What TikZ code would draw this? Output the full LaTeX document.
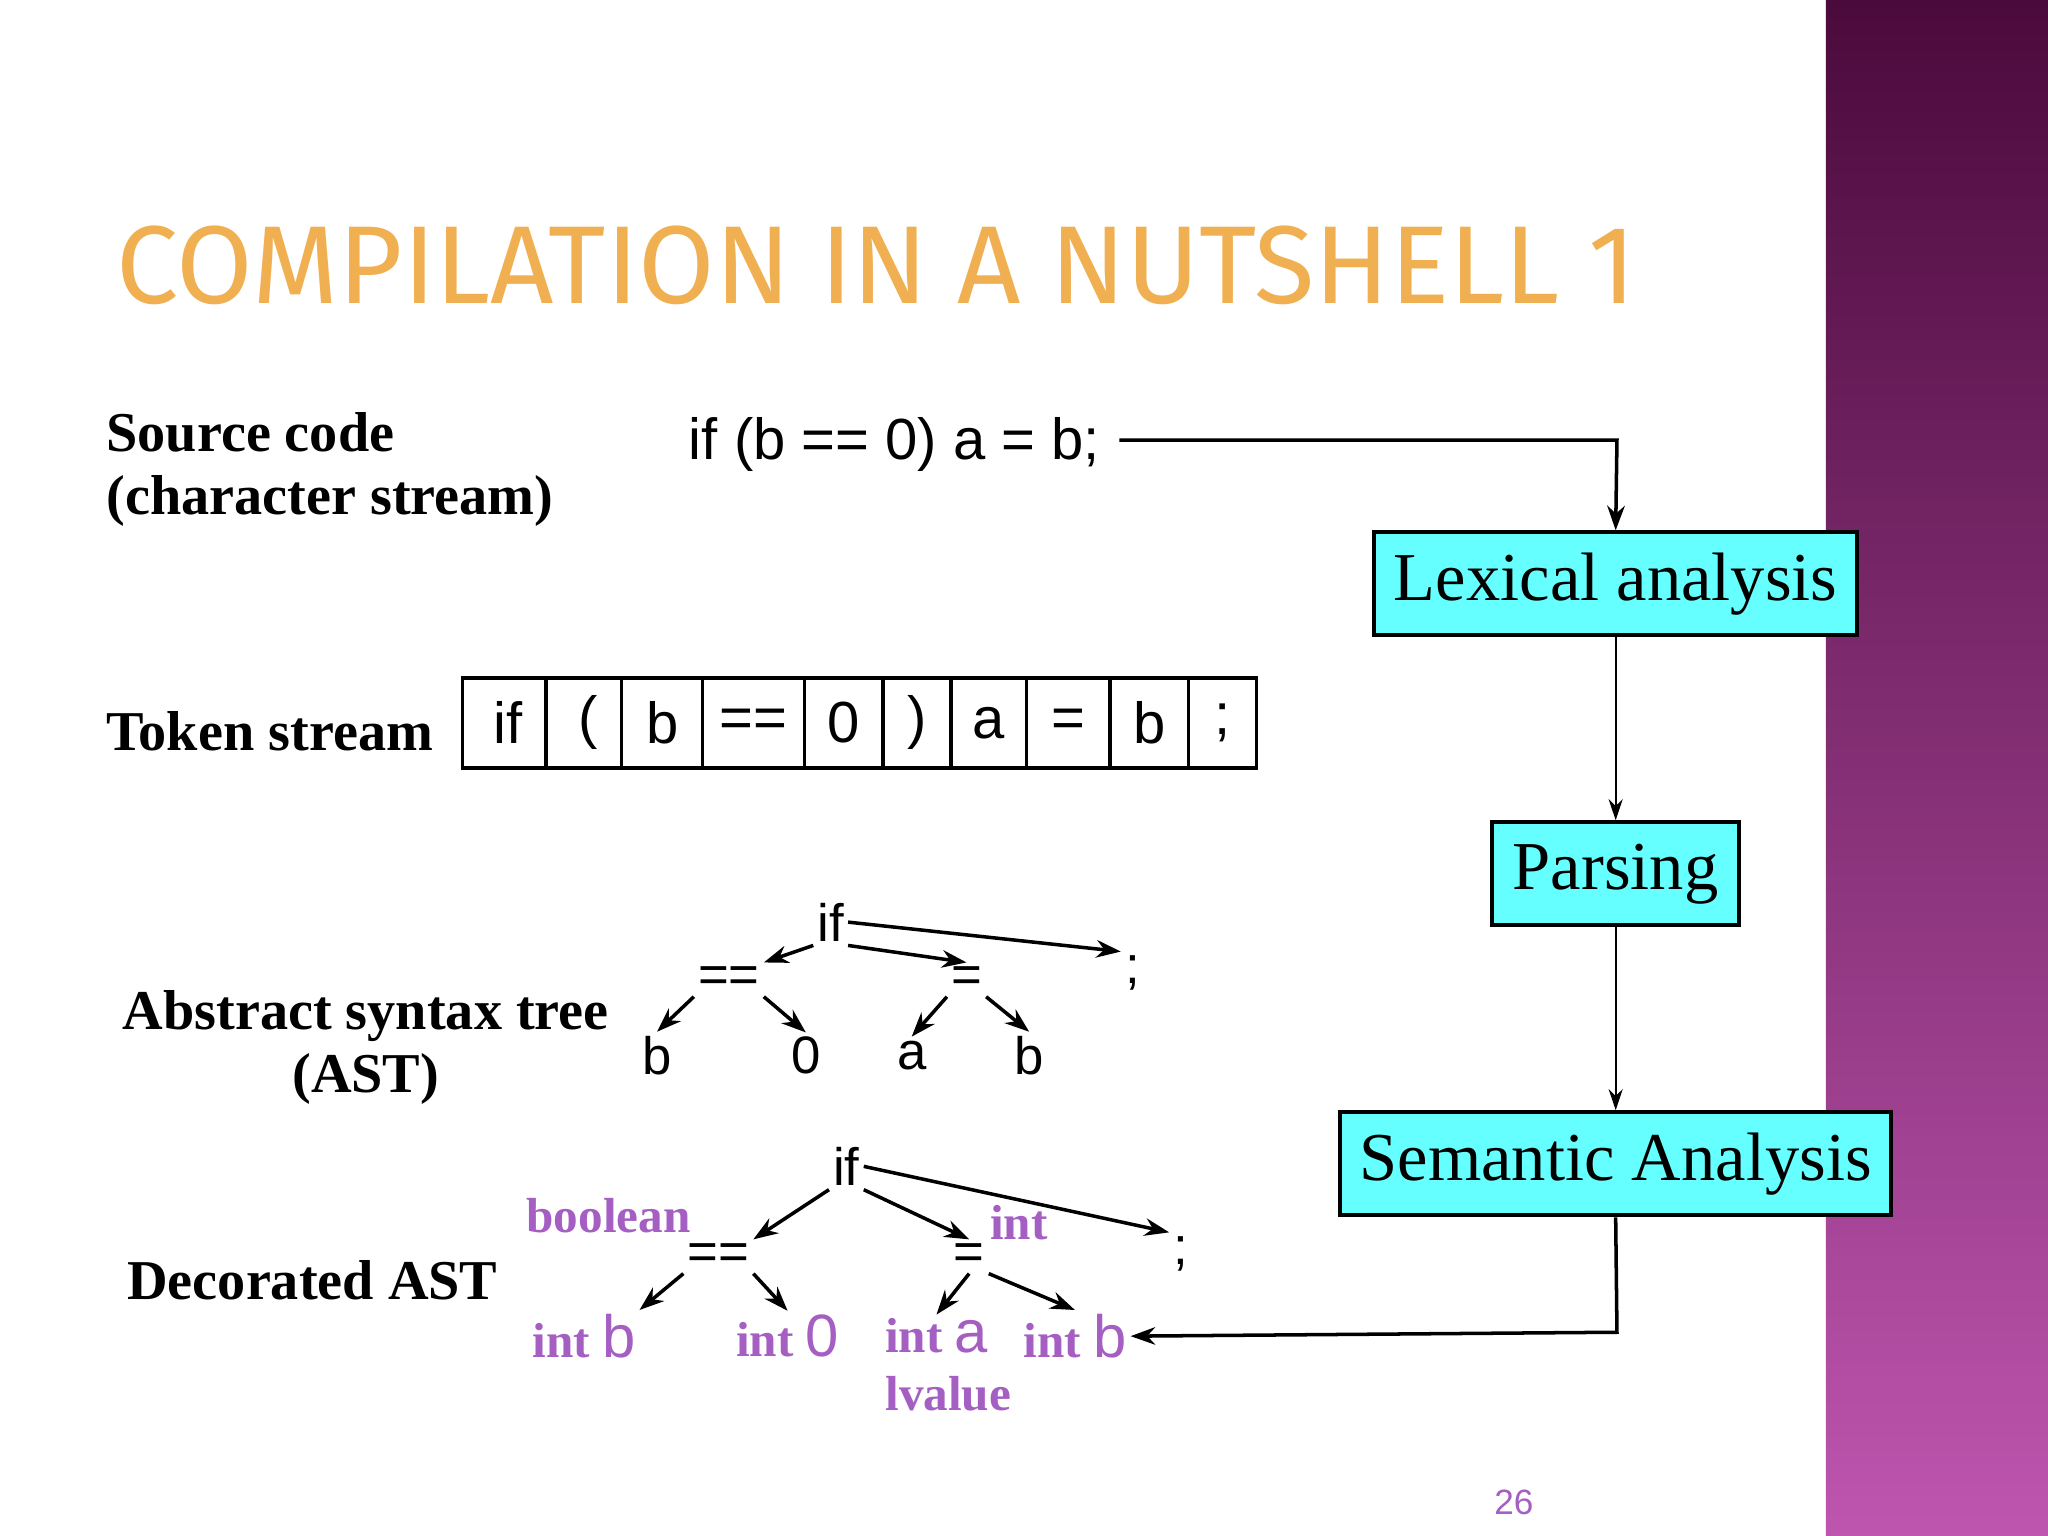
\documentclass[tikz,border=0pt]{standalone}
\usepackage{fontspec}
\setmainfont{Liberation Serif}
\newfontfamily\sansf{Liberation Sans}
\newfontfamily\titlef{Fira Sans}
\usetikzlibrary{arrows.meta}
\definecolor{cyanbox}{RGB}{102,255,255}
\definecolor{deco}{RGB}{165,95,195}
\definecolor{ttl}{RGB}{240,175,80}
\definecolor{ptop}{RGB}{75,10,60}
\definecolor{pbot}{RGB}{190,85,175}
\tikzset{
  lab/.style={font=\fontsize{16}{18}\selectfont\bfseries, align=left},
  code/.style={font=\sansf\fontsize{16.5}{19}\selectfont},
  tree/.style={font=\sansf\fontsize{15}{17}\selectfont, inner sep=1pt},
  dec/.style={font=\fontsize{14}{16}\selectfont\bfseries, text=deco, inner sep=1pt},
  box/.style={draw, line width=1.1pt, fill=cyanbox, font=\fontsize{19.5}{22}\selectfont, inner sep=0pt},
  tok/.style={minimum height=69*0.01306cm, inner sep=0pt, font=\sansf\fontsize{16.5}{19}\selectfont},
  arr/.style={-{Stealth[length=7pt,width=5pt]}, line width=1pt},
  thin/.style={-{Stealth[length=6pt,width=4pt]}, line width=0.5pt}
}
\begin{document}
\begin{tikzpicture}[x=0.01306cm,y=-0.01306cm]
\useasboundingbox (0,0) rectangle (1568,1176);
\fill[white] (0,0) rectangle (1568,1176);
\shade[top color=ptop, bottom color=pbot] (1398,0) rectangle (1568,1176);
\node[anchor=west, font=\titlef\fontsize{31.5}{34}\selectfont, text=ttl, draw=none] (title) at (80,203) {COMPILATION IN A NUTSHELL 1};

\node[lab, anchor=north west] (src) at (72,306) {Source code\\(character stream)};
\node[code, anchor=west] (srctext) at (518,340) {if (b == 0) a = b;};
\node[lab, anchor=west] (toklab) at (72,560) {Token stream};
\node[lab, align=center] (astlab) at (280,802) {Abstract syntax tree\\(AST)};
\node[lab, anchor=west] (declab) at (88,980) {Decorated AST};

% tokens
\foreach \a/\b/\t [count=\i] in {354/424/if,424/476/(,476/538/b,538/616/==,616/676/0,676/728/),728/786/a,786/850/=,850/910/b,910/962/;}{
  \node[tok, minimum width=(\b-\a)*0.01306cm] (t\i) at ({(\a+\b)/2},553.5) {\t};
}
\draw[line width=1pt] (354,519) rectangle (962,588);
\foreach \x in {418,476,538,616,676,728,786,850,910}{\draw[line width=1pt] (\x,519) -- (\x,588);}

% boxes
\node[box, minimum width=370*0.01306cm, minimum height=79*0.01306cm] (lex) at (1237,447) {Lexical analysis};
\node[box, minimum width=189*0.01306cm, minimum height=79*0.01306cm] (par) at (1237,669) {Parsing};
\node[box, minimum width=422*0.01306cm, minimum height=79*0.01306cm] (sem) at (1237,891) {Semantic Analysis};
\coordinate (c0) at (857,337);
\coordinate (c1) at (1238,337);
\coordinate (c2) at (1238,1020);
\draw[arr] (c0) -- (c1) -- (lex.north);
\draw[thin] (lex.south) -- (par.north);
\draw[thin] (par.south) -- (sem.north);

% AST
\node[tree] (aif) at (636,706) {if};
\node[tree] (aeq) at (558,750) {==};
\node[tree] (aas) at (740,750) {=};
\node[tree] (asc) at (867,745) {;};
\node[tree] (ab1) at (503,808) {b};
\node[tree] (a0) at (617,808) {0};
\node[tree] (aa) at (698,808) {a};
\node[tree] (ab2) at (788,808) {b};
\draw[arr] (aif.south west) -- (aeq.north east);
\draw[arr] (aif.south east) -- (aas.north);
\draw[arr] (aif.east) -- (asc.north west);
\draw[arr] (aeq.south west) -- (ab1.north);
\draw[arr] (aeq.south east) -- (a0.north);
\draw[arr] (aas.south west) -- (aa.north);
\draw[arr] (aas.south east) -- (ab2.north);

% Decorated AST
\node[tree] (dif) at (648,893) {if};
\node[tree] (deq) at (550,962) {==};
\node[tree] (das) at (742,962) {=};
\node[tree] (dsc) at (904,960) {;};
\node[dec] (db1) at (447,1023) {int \textcolor{deco}{\sansf\fontsize{17}{19}\selectfont\mdseries b}};
\node[dec] (d0) at (603,1023) {int \textcolor{deco}{\sansf\fontsize{17}{19}\selectfont\mdseries 0}};
\node[dec] (da) at (717,1023) {int \textcolor{deco}{\sansf\fontsize{17}{19}\selectfont\mdseries a}};
\node[dec] (db2) at (823,1023) {int \textcolor{deco}{\sansf\fontsize{17}{19}\selectfont\mdseries b}};
\node[dec] (boo) at (466,931) {boolean};
\node[dec] (dint) at (780,936) {int};
\node[dec] (lv) at (726,1067) {lvalue};
\draw[arr] (dif.south west) -- (deq.north east);
\draw[arr] (dif.south east) -- (das.north);
\draw[arr] (dif.east) -- (dsc.north west);
\draw[arr] (deq.south west) -- (db1.north east);
\draw[arr] (deq.south east) -- (d0.north);
\draw[arr] (das.south) -- (da.north);
\draw[arr] (das.south east) -- (db2.north);
\draw[arr] (sem.south) -- (c2) -- (db2.east);

\node[font=\sansf\fontsize{10}{12}\selectfont, text=deco] (pg) at (1159,1150) {26};
\end{tikzpicture}
\end{document}
